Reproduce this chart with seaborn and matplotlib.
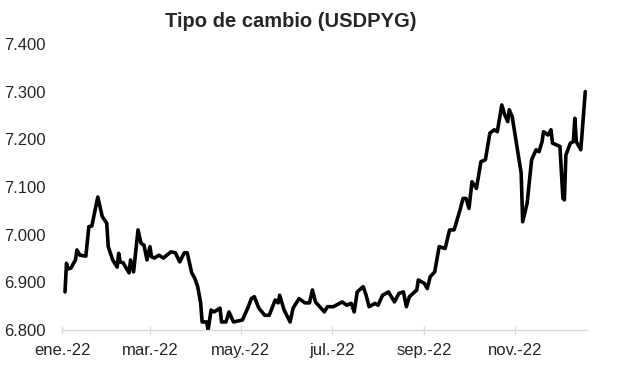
import matplotlib
matplotlib.use("Agg")
import matplotlib.pyplot as plt
from matplotlib.ticker import FuncFormatter
import seaborn as sns
import pandas as pd

dates = [
    "2022-01-03", "2022-01-04", "2022-01-05", "2022-01-07", "2022-01-10", "2022-01-11",
    "2022-01-13", "2022-01-17", "2022-01-19", "2022-01-21", "2022-01-25", "2022-01-28",
    "2022-01-31", "2022-02-01", "2022-02-04", "2022-02-07", "2022-02-08", "2022-02-09",
    "2022-02-11", "2022-02-15", "2022-02-16", "2022-02-18", "2022-02-21", "2022-02-23",
    "2022-02-25", "2022-02-27", "2022-03-01", "2022-03-02", "2022-03-04", "2022-03-07",
    "2022-03-10", "2022-03-15", "2022-03-18", "2022-03-21", "2022-03-24", "2022-03-26",
    "2022-03-29", "2022-03-31", "2022-04-02", "2022-04-04", "2022-04-05", "2022-04-08",
    "2022-04-09", "2022-04-11", "2022-04-13", "2022-04-17", "2022-04-18", "2022-04-21",
    "2022-04-23", "2022-04-26", "2022-05-02", "2022-05-06", "2022-05-08", "2022-05-10",
    "2022-05-13", "2022-05-17", "2022-05-20", "2022-05-24", "2022-05-26", "2022-05-27",
    "2022-05-30", "2022-06-03", "2022-06-05", "2022-06-09", "2022-06-13", "2022-06-16",
    "2022-06-18", "2022-06-20", "2022-06-26", "2022-06-28", "2022-07-02", "2022-07-08",
    "2022-07-11", "2022-07-14", "2022-07-16", "2022-07-18", "2022-07-22", "2022-07-24",
    "2022-07-26", "2022-07-30", "2022-08-01", "2022-08-04", "2022-08-08", "2022-08-12",
    "2022-08-15", "2022-08-18", "2022-08-20", "2022-08-22", "2022-08-27", "2022-08-28",
    "2022-09-01", "2022-09-03", "2022-09-05", "2022-09-08", "2022-09-11", "2022-09-15",
    "2022-09-18", "2022-09-21", "2022-09-25", "2022-09-27", "2022-09-29", "2022-10-01",
    "2022-10-03", "2022-10-06", "2022-10-09", "2022-10-12", "2022-10-15", "2022-10-18",
    "2022-10-20", "2022-10-23", "2022-10-25", "2022-10-27", "2022-10-28", "2022-10-30",
    "2022-11-05", "2022-11-06", "2022-11-09", "2022-11-12", "2022-11-15", "2022-11-17",
    "2022-11-19", "2022-11-20", "2022-11-23", "2022-11-25", "2022-11-26", "2022-12-01",
    "2022-12-03", "2022-12-04", "2022-12-05", "2022-12-08", "2022-12-10", "2022-12-11",
    "2022-12-12", "2022-12-15", "2022-12-18",
]
usdpyg = [
    6880, 6940, 6928, 6930, 6947, 6968,
    6957, 6955, 7017, 7018, 7079, 7038,
    7024, 6975, 6947, 6932, 6961, 6943,
    6941, 6920, 6947, 6922, 7010, 6982,
    6978, 6947, 6975, 6954, 6951, 6957,
    6951, 6964, 6962, 6943, 6962, 6962,
    6920, 6909, 6891, 6857, 6817, 6817,
    6800, 6842, 6838, 6846, 6817, 6817,
    6838, 6817, 6821, 6849, 6866, 6870,
    6846, 6831, 6831, 6863, 6857, 6873,
    6842, 6817, 6846, 6866, 6857, 6857,
    6884, 6859, 6838, 6849, 6849, 6859,
    6852, 6856, 6838, 6880, 6891, 6873,
    6849, 6856, 6852, 6873, 6880, 6859,
    6877, 6880, 6849, 6870, 6884, 6905,
    6898, 6887, 6912, 6922, 6975, 6971,
    7010, 7010, 7052, 7076, 7076, 7055,
    7111, 7097, 7153, 7157, 7213, 7220,
    7216, 7272, 7251, 7237, 7262, 7247,
    7129, 7027, 7066, 7157, 7178, 7174,
    7195, 7216, 7209, 7220, 7192, 7185,
    7076, 7073, 7167, 7192, 7195, 7244,
    7195, 7178, 7300,
]
tick_dates = ["2022-01-01", "2022-03-01", "2022-05-01", "2022-07-01", "2022-09-01", "2022-11-01"]
tick_labels = ["ene.-22", "mar.-22", "may.-22", "jul.-22", "sep.-22", "nov.-22"]
y_ticks = [6800, 6900, 7000, 7100, 7200, 7300, 7400]
title = "Tipo de cambio (USDPYG)"

sns.set_theme(style="white")
plt.rcParams["font.family"] = ["Liberation Sans", "DejaVu Sans"]

df = pd.DataFrame({"fecha": pd.to_datetime(dates), "valor": usdpyg})

fig = plt.figure(figsize=(6.17, 3.92), dpi=100)
ax = fig.add_axes([0.1005, 0.158, 0.8505, 0.730])
sns.lineplot(data=df, x="fecha", y="valor", ax=ax, color="black", linewidth=2.6)

ax.set_xlim(pd.Timestamp("2022-01-01"), pd.Timestamp("2022-12-19"))
ax.set_ylim(6800, 7400)
ax.set_yticks(y_ticks)
ax.yaxis.set_major_formatter(FuncFormatter(lambda v, p: f"{int(round(v)):,}".replace(",", ".")))
ax.set_xticks(pd.to_datetime(tick_dates))
ax.set_xticklabels(tick_labels)
ax.set_xlabel("")
ax.set_ylabel("")

for s in ["top", "right", "left"]:
    ax.spines[s].set_visible(False)
ax.spines["bottom"].set_color("#d9d9d9")
ax.spines["bottom"].set_linewidth(1)
ax.tick_params(axis="x", which="major", direction="inout", length=6, color="#d9d9d9",
               width=1, labelsize=12, pad=6, bottom=True)
ax.tick_params(axis="y", length=0, labelsize=12, pad=12)
for lbl in ax.get_yticklabels():
    lbl.set_horizontalalignment("right")

fig.text(0.472, 0.945, title, ha="center", va="center", fontsize=14.5, fontweight="bold")

fig.savefig("out.png", dpi=100, facecolor="white")
